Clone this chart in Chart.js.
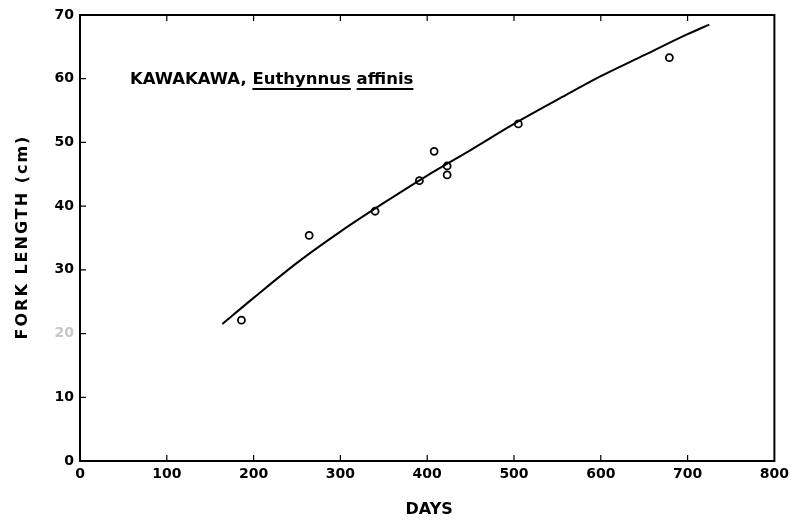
<!DOCTYPE html>
<html>
<head>
<meta charset="utf-8">
<title>Kawakawa growth</title>
<script src="https://cdn.jsdelivr.net/npm/chart.js@4.4.1/dist/chart.umd.min.js"></script>
<style>
  html, body { margin: 0; padding: 0; background: #fff; }
  #wrap { width: 794px; height: 523px; }
</style>
</head>
<body>
<div id="wrap"><canvas id="c" width="794" height="523"></canvas></div>
<script>
// Fitted growth curve (fork length, cm, against age in days)
const CURVE_DAYS   = [164, 200, 250, 300, 350, 400, 450, 500, 550, 600, 650, 700, 725];
const CURVE_LENGTH = [21.5, 25.6, 31.1, 36.0, 40.5, 44.8, 48.8, 52.9, 56.7, 60.4, 63.7, 67.0, 68.5];

// Observed fish
const OBS_DAYS   = [186, 264, 340, 391, 408, 423, 423, 505, 679];
const OBS_LENGTH = [22.1, 35.4, 39.2, 44.0, 48.6, 46.3, 44.9, 52.9, 63.3];

// Axis ranges and labels
const X_MIN = 0, X_MAX = 800, X_STEP = 100;
const Y_MIN = 0, Y_MAX = 70, Y_STEP = 10;
const X_TITLE = 'DAYS';
const Y_TITLE = 'FORK LENGTH (cm)';
const SPECIES_COMMON = 'KAWAKAWA, ';
const SPECIES_GENUS = 'Euthynnus';
const SPECIES_NAME = 'affinis';

const FONT = '"DejaVu Sans", "Liberation Sans", sans-serif';

const toXY = (xs, ys) => xs.map((x, i) => ({ x: x, y: ys[i] }));

// Box frame, inward tick marks, titles and the species label
const framePlugin = {
  id: 'frame',
  afterDraw(chart) {
    const ctx = chart.ctx;
    const a = chart.chartArea;
    const xs = chart.scales.x, ys = chart.scales.y;
    ctx.save();
    ctx.strokeStyle = '#000';
    ctx.lineWidth = 2;
    ctx.strokeRect(a.left, a.top, a.right - a.left, a.bottom - a.top);

    ctx.lineWidth = 1.2;
    ctx.beginPath();
    xs.ticks.forEach(t => {
      const px = xs.getPixelForValue(t.value);
      if (t.value === X_MIN || t.value === X_MAX) return;
      ctx.moveTo(px, a.bottom); ctx.lineTo(px, a.bottom - 6);
      ctx.moveTo(px, a.top); ctx.lineTo(px, a.top + 6);
    });
    ys.ticks.forEach(t => {
      const py = ys.getPixelForValue(t.value);
      if (t.value === Y_MIN || t.value === Y_MAX) return;
      ctx.moveTo(a.left, py); ctx.lineTo(a.left + 6, py);
    });
    ctx.stroke();

    ctx.fillStyle = '#000';
    // x title
    ctx.font = 'bold 16px ' + FONT;
    ctx.textAlign = 'center';
    ctx.textBaseline = 'middle';
    ctx.fillText(X_TITLE, (a.left + a.right) / 2 + 2, 510);

    // y title
    ctx.save();
    ctx.translate(23, 237);
    ctx.rotate(-Math.PI / 2);
    ctx.font = 'bold 16px ' + FONT;
    ctx.letterSpacing = '2px';
    ctx.fillText(Y_TITLE, 0, 0);
    ctx.restore();

    // species label with underlined scientific name
    ctx.font = 'bold 16.5px ' + FONT;
    ctx.textAlign = 'left';
    ctx.textBaseline = 'alphabetic';
    let x = 130;
    const base = 84;
    ctx.fillText(SPECIES_COMMON, x, base);
    x += ctx.measureText(SPECIES_COMMON).width;
    const wG = ctx.measureText(SPECIES_GENUS).width;
    ctx.fillText(SPECIES_GENUS, x, base);
    ctx.fillRect(x, base + 4, wG, 2);
    x += wG + ctx.measureText(' ').width;
    const wS = ctx.measureText(SPECIES_NAME).width;
    ctx.fillText(SPECIES_NAME, x, base);
    ctx.fillRect(x, base + 4, wS, 2);
    ctx.restore();
  }
};

new Chart(document.getElementById('c'), {
  type: 'scatter',
  data: {
    datasets: [
      {
        label: 'Growth curve',
        data: toXY(CURVE_DAYS, CURVE_LENGTH),
        showLine: true,
        borderColor: '#000',
        borderWidth: 2,
        pointRadius: 0,
        cubicInterpolationMode: 'monotone',
        fill: false
      },
      {
        label: 'Observed',
        data: toXY(OBS_DAYS, OBS_LENGTH),
        showLine: false,
        pointStyle: 'circle',
        pointRadius: 3.5,
        pointBorderWidth: 1.8,
        pointBackgroundColor: '#fff',
        pointBorderColor: '#000'
      }
    ]
  },
  options: {
    responsive: false,
    animation: false,
    events: [],
    layout: { padding: { top: 15, right: 18, left: 0, bottom: 0 } },
    plugins: { legend: { display: false }, tooltip: { enabled: false } },
    scales: {
      x: {
        type: 'linear',
        min: X_MIN, max: X_MAX,
        grid: { display: false, drawTicks: false },
        border: { display: false },
        afterFit(s) { s.height = 62; },
        ticks: {
          stepSize: X_STEP,
          padding: 5,
          color: '#000',
          font: { family: FONT, size: 14, weight: 'bold' }
        }
      },
      y: {
        type: 'linear',
        min: Y_MIN, max: Y_MAX,
        grid: { display: false, drawTicks: false },
        border: { display: false },
        afterFit(s) { s.width = 80; },
        ticks: {
          stepSize: Y_STEP,
          padding: 6,
          color: ctx => (ctx.tick && ctx.tick.value === 20 ? '#c8c8c8' : '#000'),
          font: { family: FONT, size: 14, weight: 'bold' }
        }
      }
    }
  },
  plugins: [framePlugin]
});
</script>
</body>
</html>
